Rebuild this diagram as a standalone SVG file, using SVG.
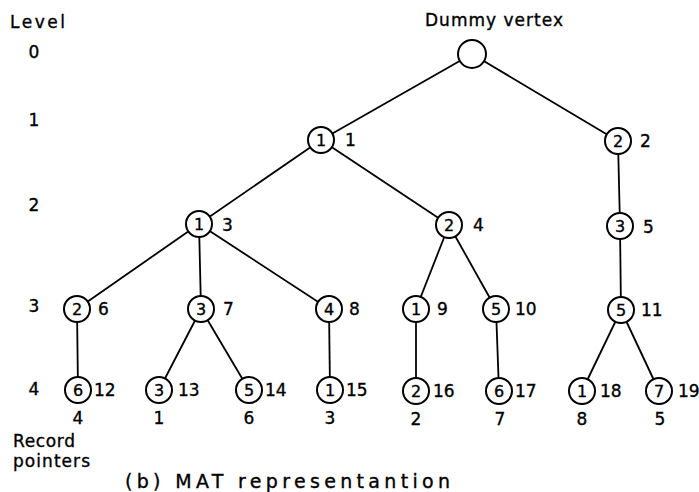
<svg xmlns="http://www.w3.org/2000/svg" width="699" height="492" viewBox="0 0 699 492">
<style>
text{font-family:"DejaVu Sans","Liberation Sans",sans-serif;fill:#000;font-size:17px;stroke:#000;stroke-width:0.35}
.c{fill:#fff;stroke:#000;stroke-width:2}
.d{text-anchor:middle;font-size:16px}
.e{stroke:#000;stroke-width:1.8;fill:none}
.lv{text-anchor:middle}
.cap{font-size:19px}
</style>
<rect width="699" height="492" fill="#fff"/>
<g id="labels">
<text x="10" y="28" textLength="55" lengthAdjust="spacing">Level</text>
<text class="lv" x="34" y="58">0</text>
<text class="lv" x="34" y="126">1</text>
<text class="lv" x="34" y="211">2</text>
<text class="lv" x="34" y="312">3</text>
<text class="lv" x="34" y="395">4</text>
<text x="425" y="26" textLength="138" lengthAdjust="spacing">Dummy vertex</text>
<text x="13" y="447" textLength="62" lengthAdjust="spacing">Record</text>
<text x="13" y="467" textLength="77" lengthAdjust="spacing">pointers</text>
<text class="cap" x="125" y="488" textLength="325" lengthAdjust="spacing">(b)  MAT  representantion</text>
<text class="lv" x="78" y="424">4</text>
<text class="lv" x="159" y="424">1</text>
<text class="lv" x="249" y="424">6</text>
<text class="lv" x="330" y="424">3</text>
<text class="lv" x="416" y="425">2</text>
<text class="lv" x="500" y="425">7</text>
<text class="lv" x="582" y="425">8</text>
<text class="lv" x="660" y="425">5</text>
</g>
<g id="connectors" class="e">
<line x1="472" y1="54" x2="321" y2="140"/>
<line x1="472" y1="54" x2="618" y2="141"/>
<line x1="321" y1="140" x2="199" y2="224"/>
<line x1="321" y1="140" x2="449" y2="225"/>
<line x1="618" y1="141" x2="620" y2="226"/>
<line x1="199" y1="224" x2="77" y2="309"/>
<line x1="199" y1="224" x2="201" y2="309"/>
<line x1="199" y1="224" x2="329" y2="309"/>
<line x1="449" y1="225" x2="416" y2="309"/>
<line x1="449" y1="225" x2="496" y2="309"/>
<line x1="620" y1="226" x2="621" y2="310"/>
<line x1="77" y1="309" x2="78" y2="390"/>
<line x1="201" y1="309" x2="159" y2="390"/>
<line x1="201" y1="309" x2="249" y2="390"/>
<line x1="329" y1="309" x2="330" y2="390"/>
<line x1="416" y1="309" x2="416" y2="391"/>
<line x1="496" y1="309" x2="499" y2="391"/>
<line x1="621" y1="310" x2="582" y2="391"/>
<line x1="621" y1="310" x2="659" y2="391"/>
</g>
<g id="n0"><circle class="c" cx="472" cy="54" r="14"/></g>
<g id="n1"><circle class="c" cx="321" cy="140" r="13"/><text class="d" x="321" y="146">1</text><text x="345" y="146">1</text></g>
<g id="n2"><circle class="c" cx="618" cy="141" r="13"/><text class="d" x="618" y="147">2</text><text x="640" y="147">2</text></g>
<g id="n3"><circle class="c" cx="199" cy="224" r="13"/><text class="d" x="199" y="230">1</text><text x="222" y="231">3</text></g>
<g id="n4"><circle class="c" cx="449" cy="225" r="13"/><text class="d" x="449" y="231">2</text><text x="473" y="231">4</text></g>
<g id="n5"><circle class="c" cx="620" cy="226" r="13"/><text class="d" x="620" y="232">3</text><text x="643" y="233">5</text></g>
<g id="n6"><circle class="c" cx="77" cy="309" r="13"/><text class="d" x="77" y="315">2</text><text x="98" y="315">6</text></g>
<g id="n7"><circle class="c" cx="201" cy="309" r="13"/><text class="d" x="201" y="315">3</text><text x="223" y="315">7</text></g>
<g id="n8"><circle class="c" cx="329" cy="309" r="13"/><text class="d" x="329" y="315">4</text><text x="349" y="315">8</text></g>
<g id="n9"><circle class="c" cx="416" cy="309" r="13"/><text class="d" x="416" y="315">1</text><text x="437" y="315">9</text></g>
<g id="n10"><circle class="c" cx="496" cy="309" r="13"/><text class="d" x="496" y="315">5</text><text x="515" y="315">10</text></g>
<g id="n11"><circle class="c" cx="621" cy="310" r="13"/><text class="d" x="621" y="316">5</text><text x="641" y="316">11</text></g>
<g id="n12"><circle class="c" cx="78" cy="390" r="13"/><text class="d" x="78" y="396">6</text><text x="94" y="396">12</text></g>
<g id="n13"><circle class="c" cx="159" cy="390" r="13"/><text class="d" x="159" y="396">3</text><text x="178" y="396">13</text></g>
<g id="n14"><circle class="c" cx="249" cy="390" r="13"/><text class="d" x="249" y="396">5</text><text x="265" y="396">14</text></g>
<g id="n15"><circle class="c" cx="330" cy="390" r="13"/><text class="d" x="330" y="396">1</text><text x="346" y="396">15</text></g>
<g id="n16"><circle class="c" cx="416" cy="391" r="13"/><text class="d" x="416" y="397">2</text><text x="433" y="397">16</text></g>
<g id="n17"><circle class="c" cx="499" cy="391" r="13"/><text class="d" x="499" y="397">6</text><text x="515" y="397">17</text></g>
<g id="n18"><circle class="c" cx="582" cy="391" r="13"/><text class="d" x="582" y="397">1</text><text x="600" y="397">18</text></g>
<g id="n19"><circle class="c" cx="659" cy="391" r="13"/><text class="d" x="659" y="397">7</text><text x="678" y="397">19</text></g>
</svg>
